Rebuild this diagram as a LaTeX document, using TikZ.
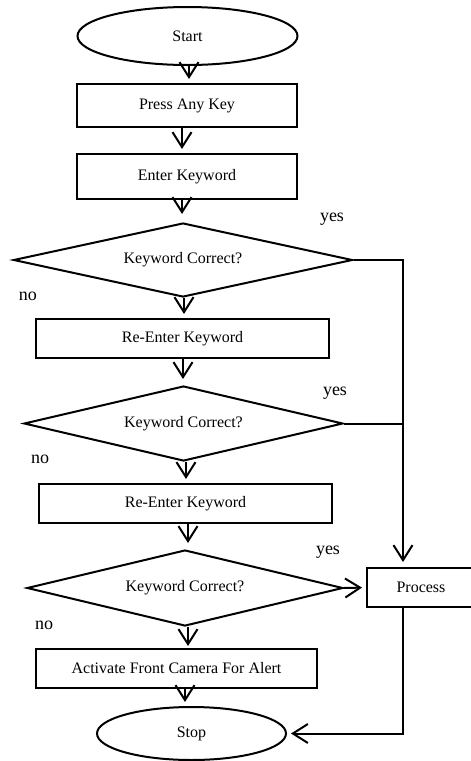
\documentclass[tikz,border=0pt]{standalone}
\usepackage{fontspec}
\setmainfont{Liberation Serif}
\usetikzlibrary{shapes.geometric,arrows.meta}
\begin{document}
\begin{tikzpicture}[x=1pt,y=-1pt,
  every node/.style={font=\fontsize{16}{19}\selectfont},
  line/.style={line width=2pt},
  arr/.style={line width=2pt,-{Straight Barb[length=15pt,width=19pt]}},
  terminal/.style={draw,line width=2pt,ellipse,inner sep=0pt},
  stepbox/.style={draw,line width=2pt,rectangle,inner sep=0pt},
  decision/.style={draw,line width=2pt,diamond,inner sep=0pt,aspect=4.4},
  answer/.style={font=\fontsize{18}{21}\selectfont}]
\useasboundingbox (0,0) rectangle (471,761);

% flow nodes
\node[terminal, minimum width=220pt, minimum height=58pt] (start) at (187.5,36) {Start};
\node[stepbox, minimum width=220pt, minimum height=43pt] (press) at (187,105.5) {Press Any Key};
\node[stepbox, minimum width=220pt, minimum height=45pt] (enter) at (187,176.5) {Enter Keyword};
\node[decision, minimum width=339pt, minimum height=74pt] (chk1) at (183,260) {Keyword Correct?};
\node[stepbox, minimum width=293pt, minimum height=39pt] (re1) at (182.5,338.5) {Re-Enter Keyword};
\node[decision, minimum width=319pt, minimum height=75pt] (chk2) at (183.5,423.5) {Keyword Correct?};
\node[stepbox, minimum width=293pt, minimum height=39pt] (re2) at (185.5,503.5) {Re-Enter Keyword};
\node[decision, minimum width=316pt, minimum height=76pt] (chk3) at (185,588) {Keyword Correct?};
\node[stepbox, minimum width=108pt, minimum height=39pt] (proc) at (421,587.5) {Process};
\node[stepbox, minimum width=281pt, minimum height=39pt] (alert) at (176.5,668.5) {Activate Front Camera For Alert};
\node[terminal, minimum width=189pt, minimum height=53pt] (stop) at (191.5,733.5) {Stop};

% branch labels
\node[answer] (yes1) at (332,219) {yes};
\node[answer] (yes2) at (335,393) {yes};
\node[answer] (yes3) at (328,552) {yes};
\node[answer] (no1) at (28,296) {no};
\node[answer] (no2) at (40,459) {no};
\node[answer] (no3) at (44,625) {no};

% junction points on the Process box
\coordinate (jtop) at ([xshift=37pt]proc.north west);
\coordinate (jbot) at ([xshift=37pt]proc.south west);

% main column
\draw[arr, shorten >=4pt] ([xshift=1.5pt]start.south) -- ([xshift=1.5pt]start.south |- press.north);
\draw[arr, shorten >=4pt] ([xshift=-5pt]press.south) -- ([xshift=-5pt]press.south |- enter.north);
\draw[arr, shorten >=8pt] ([xshift=-5pt]enter.south) -- ([xshift=-5pt]enter.south |- chk1.north);
\draw[arr, shorten >=4pt] ([xshift=1pt]chk1.south) -- ([xshift=1pt]chk1.south |- re1.north);
\draw[arr, shorten >=6pt] ([xshift=0.5pt]re1.south) -- ([xshift=0.5pt]re1.south |- chk2.north);
\draw[arr, shorten >=4pt] ([xshift=2.5pt]chk2.south) -- ([xshift=2.5pt]chk2.south |- re2.north);
\draw[arr, shorten >=6pt] ([xshift=2.5pt]re2.south) -- ([xshift=2.5pt]re2.south |- chk3.north);
\draw[arr, shorten >=2pt] ([xshift=3pt]chk3.south) -- ([xshift=3pt]chk3.south |- alert.north);
\draw[arr, shorten >=4pt] ([xshift=8.5pt]alert.south) -- ([xshift=8.5pt]alert.south |- stop.north);

% "yes" branches
\draw[arr, shorten >=5pt] (chk1.east) -| (jtop);
\draw[line] (chk2.east) -- (chk2.east -| jtop);
\draw[arr, shorten >=4pt] (chk3.east) -- (proc.west);
\draw[arr, shorten >=4pt] (jbot) |- (stop.east);
\end{tikzpicture}
\end{document}
